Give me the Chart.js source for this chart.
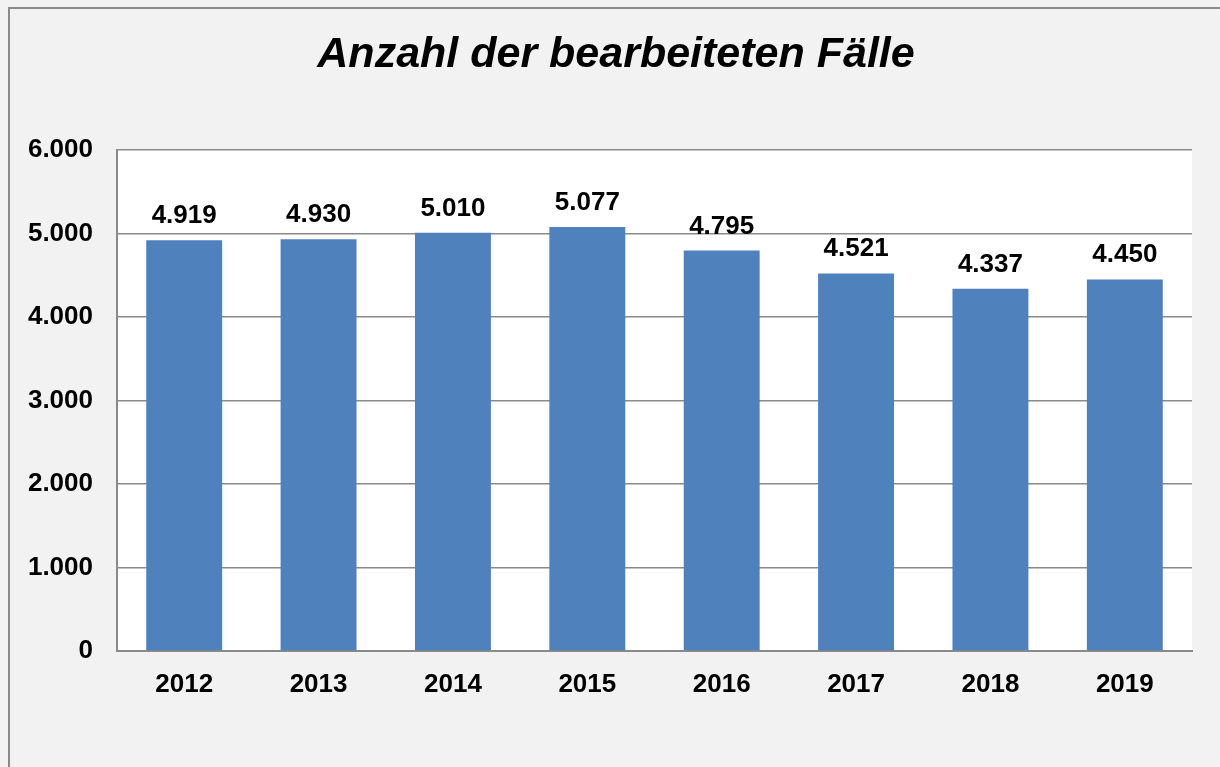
<!DOCTYPE html>
<html>
<head>
<meta charset="utf-8">
<script src="https://cdn.jsdelivr.net/npm/chart.js@4"></script>
<style>
  html, body { margin: 0; padding: 0; background: #f2f2f2; }
  #wrap { width: 1220px; height: 767px; position: relative; }
</style>
</head>
<body>
<div id="wrap"><canvas id="faelleChart"></canvas></div>
<script>
const years = ["2012", "2013", "2014", "2015", "2016", "2017", "2018", "2019"];
const cases = [4919, 4930, 5010, 5077, 4795, 4521, 4337, 4450];
const yTicks = [0, 1000, 2000, 3000, 4000, 5000, 6000];

const fmt = (v) => v.toLocaleString("de-DE");

// grey page, outer frame and white plot area
const backgroundPlugin = {
  id: "background",
  beforeDraw(chart) {
    const ctx = chart.ctx;
    const a = chart.chartArea;
    ctx.save();
    ctx.fillStyle = "#f2f2f2";
    ctx.fillRect(0, 0, chart.width, chart.height);
    ctx.strokeStyle = "#8a8a8a";
    ctx.lineWidth = 2;
    ctx.strokeRect(9, 8, chart.width + 20, chart.height + 20);
    ctx.fillStyle = "#ffffff";
    ctx.fillRect(a.left, a.top, a.right - a.left, a.bottom - a.top);
    ctx.restore();
  },
};

// value labels above the bars
const valueLabels = {
  id: "valueLabels",
  afterDatasetsDraw(chart) {
    const ctx = chart.ctx;
    const meta = chart.getDatasetMeta(0);
    ctx.save();
    ctx.font = "bold 26px 'Liberation Sans', Arial, sans-serif";
    ctx.fillStyle = "#000";
    ctx.textAlign = "center";
    ctx.textBaseline = "alphabetic";
    meta.data.forEach((bar, i) => {
      ctx.fillText(fmt(cases[i]), bar.x, bar.y - 17);
    });
    ctx.restore();
  },
};

const ctx = document.getElementById("faelleChart").getContext("2d");
const faelleChart = new Chart(ctx, {
  type: "bar",
  data: {
    labels: years,
    datasets: [
      {
        label: "Fälle",
        data: cases,
        backgroundColor: "#4f81bd",
        barPercentage: 0.565,
        categoryPercentage: 1,
      },
    ],
  },
  options: {
    responsive: true,
    maintainAspectRatio: false,
    animation: false,
    layout: { padding: { left: 12, right: 0, top: 0, bottom: 0 } },
    plugins: {
      legend: { display: false },
      tooltip: { enabled: false },
      title: {
        display: true,
        text: "Anzahl der bearbeiteten Fälle",
        color: "#000",
        font: { family: "'Liberation Sans', Arial, sans-serif", size: 43, weight: "bold", style: "italic", lineHeight: 1.2 },
        padding: { top: 29, bottom: 69.4 },
      },
    },
    scales: {
      x: {
        grid: { display: false, drawTicks: false },
        border: { display: true, color: "#8a8a8a", width: 2 },
        ticks: {
          color: "#000",
          padding: 18,
          font: { family: "'Liberation Sans', Arial, sans-serif", size: 26, weight: "bold" },
        },
        afterFit(scale) { scale.height = 116; },
      },
      y: {
        min: 0,
        max: 6000,
        afterBuildTicks(scale) { scale.ticks = yTicks.map((v) => ({ value: v })); },
        grid: { color: "#8a8a8a", lineWidth: 1.5, drawTicks: false },
        border: { display: true, color: "#8a8a8a", width: 2 },
        ticks: {
          color: "#000",
          padding: 24,
          font: { family: "'Liberation Sans', Arial, sans-serif", size: 26, weight: "bold" },
          callback: (v) => fmt(v),
        },
        afterFit(scale) { scale.width = 105; },
      },
      // empty right margin so the title centres like the original
      yRight: {
        position: "right",
        min: 0,
        max: 6000,
        grid: { display: false, drawTicks: false },
        border: { display: false },
        ticks: { display: false },
        afterFit(scale) { scale.width = 28; },
      },
    },
  },
  plugins: [backgroundPlugin, valueLabels],
});
</script>
</body>
</html>
